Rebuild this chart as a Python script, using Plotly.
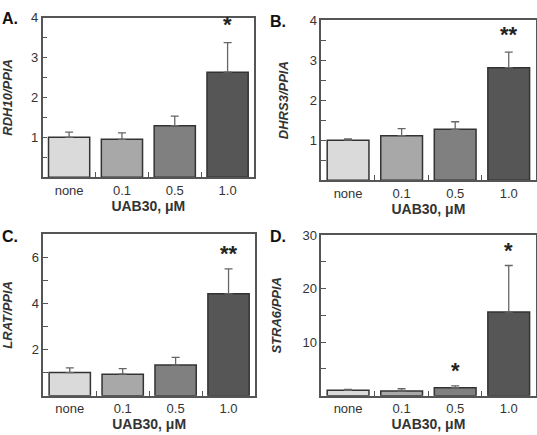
import plotly.graph_objects as go

# ---- data ----
categories = ["none", "0.1", "0.5", "1.0"]

rdh10_mean = [1.00, 0.95, 1.29, 2.63]
rdh10_err = [0.13, 0.16, 0.24, 0.74]

dhrs3_mean = [1.00, 1.11, 1.27, 2.81]
dhrs3_err = [0.03, 0.18, 0.19, 0.39]

lrat_mean = [1.00, 0.93, 1.33, 4.41]
lrat_err = [0.20, 0.24, 0.33, 1.08]

stra6_mean = [1.00, 0.86, 1.47, 15.6]
stra6_err = [0.17, 0.43, 0.37, 8.7]

# significance marks: (category, y, text)
rdh10_sig = [("1.0", 3.72, "*")]
dhrs3_sig = [("1.0", 3.55, "**")]
lrat_sig = [("1.0", 6.0, "**")]
stra6_sig = [("0.5", 3.9, "*"), ("1.0", 26.3, "*")]

ylabels = ["RDH10/PPIA", "DHRS3/PPIA", "LRAT/PPIA", "STRA6/PPIA"]
panel_letters = ["A.", "B.", "C.", "D."]
xtitle = "UAB30, μM"

bar_colors = ["#dadada", "#a8a8a8", "#808080", "#565656"]

W, H = 537, 435
FONT = "Liberation Sans, Arial, sans-serif"

# pixel boxes: (left, top, right, bottom)
boxes = [
    (42.7, 10.7, 254.0, 173.0),
    (321.3, 13.3, 535.5, 176.0),
    (43.3, 230.7, 255.0, 395.0),
    (321.3, 231.7, 535.5, 395.0),
]
yranges = [[0, 4], [0, 4], [0, 7], [0, 30]]
ytickvals = [[1, 2, 3, 4], [1, 2, 3, 4], [2, 4, 6], [10, 20, 30]]
yminor = [0.5, 0.5, 1, 5]
label_pos = [(0, 12), (268, 15), (0, 233), (268, 233)]

means = [rdh10_mean, dhrs3_mean, lrat_mean, stra6_mean]
errs = [rdh10_err, dhrs3_err, lrat_err, stra6_err]
sigs = [rdh10_sig, dhrs3_sig, lrat_sig, stra6_sig]

fig = go.Figure()
annotations = []

for i in range(4):
    n = "" if i == 0 else str(i + 1)
    xa, ya = "x" + n, "y" + n
    fig.add_trace(go.Bar(
        x=categories, y=means[i], xaxis=xa, yaxis=ya,
        marker=dict(color=bar_colors, line=dict(color="#333333", width=1.5)),
        error_y=dict(type="data", symmetric=False, array=errs[i],
                     arrayminus=[0] * len(errs[i]),
                     color="#666666", thickness=1.3, width=4),
        showlegend=False,
    ))
    l, t, r, b = boxes[i]
    fig.layout["xaxis" + n] = dict(
        domain=[l / W, r / W], anchor=ya, type="category",
        range=[-0.5, 3.5], showline=True, mirror=True, linecolor="#555555", linewidth=1.5,
        ticks="inside", tickson="boundaries", ticklen=5, tickcolor="#555555", tickwidth=1,
        tickfont=dict(size=13, color="#333333", family=FONT),
        title=dict(text="<b>" + xtitle + "</b>", font=dict(size=14, color="#333333", family=FONT), standoff=0),
        showgrid=False, zeroline=False, fixedrange=True,
    )
    fig.layout["yaxis" + n] = dict(
        domain=[1 - b / H, 1 - t / H], anchor=xa,
        range=yranges[i], tickvals=ytickvals[i],
        minor=dict(dtick=yminor[i], tick0=0, ticks="inside", ticklen=5, tickcolor="#555555", tickwidth=1),
        showline=True, mirror=True, linecolor="#555555", linewidth=1.5,
        ticks="inside", ticklen=5, tickcolor="#555555", tickwidth=1,
        tickfont=dict(size=13, color="#333333", family=FONT),
        title=dict(text="<b><i>" + ylabels[i] + "</i></b>", font=dict(size=13, color="#333333", family=FONT), standoff=18),
        showgrid=False, zeroline=False, fixedrange=True,
    )
    for cat, yv, txt in sigs[i]:
        annotations.append(dict(x=categories.index(cat), y=yv, xref=xa, yref=ya, text="<b>" + txt + "</b>",
                                showarrow=False, font=dict(size=22, color="#222222", family=FONT),
                                yanchor="middle", xanchor="center", yshift=4))
    lx, ly = label_pos[i]
    annotations.append(dict(x=lx / W, y=1 - ly / H, xref="paper", yref="paper",
                            text="<b>" + panel_letters[i] + "</b>", showarrow=False,
                            xanchor="left", yanchor="middle",
                            font=dict(size=16, color="#111111", family=FONT)))

fig.update_layout(
    width=W, height=H, margin=dict(l=0, r=0, t=0, b=0),
    paper_bgcolor="white", plot_bgcolor="white",
    bargap=0.22, annotations=annotations,
    font=dict(family=FONT),
)

fig.write_html("out.html")
